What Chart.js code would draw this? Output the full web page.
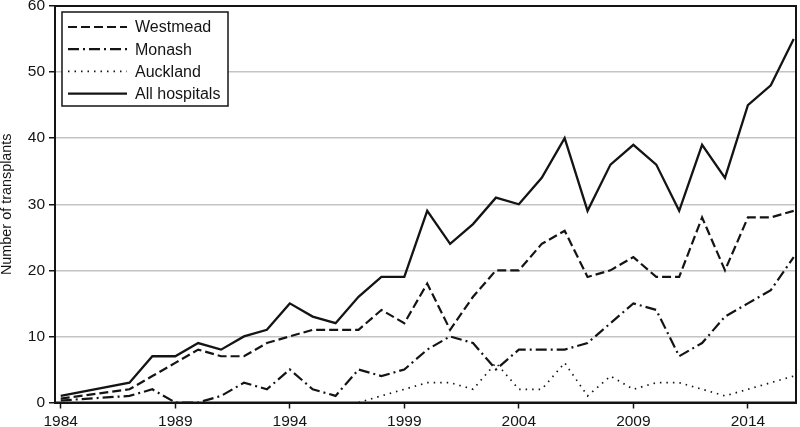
<!DOCTYPE html>
<html>
<head>
<meta charset="utf-8">
<script src="https://cdn.jsdelivr.net/npm/chart.js@4.4.0/dist/chart.umd.min.js"></script>
<style>
html,body{margin:0;padding:0;background:#fff;}
#wrap{width:800px;height:427px;position:relative;}
</style>
</head>
<body>
<div id="wrap"><canvas id="c" width="800" height="427"></canvas></div>
<script>
const years = [1984,1985,1986,1987,1988,1989,1990,1991,1992,1993,1994,1995,1996,1997,1998,1999,2000,2001,2002,2003,2004,2005,2006,2007,2008,2009,2010,2011,2012,2013,2014,2015,2016];
const westmead = [0.6,null,null,2,4,6,8,7,7,9,10,11,11,11,14,12,18,11,16,20,20,24,26,19,20,22,19,19,28,20,28,28,29];
const monash = [0.3,null,null,1,2,0,0,1,3,2,5,2,1,5,4,5,8,10,9,5,8,8,8,9,12,15,14,7,9,13,15,17,22];
const auckland = [null,null,null,null,null,null,null,null,null,null,null,null,null,0,1,2,3,3,2,6,2,2,6,1,4,2,3,3,2,1,2,3,4];
const allHospitals = [1,null,null,3,7,7,9,8,10,11,15,13,12,16,19,19,29,24,27,31,30,34,40,29,36,39,36,29,39,34,45,48,55];
const xTickYears = [1984,1989,1994,1999,2004,2009,2014];
const yTickValues = [0,10,20,30,40,50,60];
const seriesLabels = ['Westmead','Monash','Auckland','All hospitals'];

const FONT = '"Liberation Sans", Arial, Helvetica, sans-serif';
const INK = '#141414';

function pts(arr){ return years.map((y,i)=>({x:y, y:arr[i]})); }

const boxLegend = {
  id:'boxLegend',
  afterDraw(chart){
    const ctx = chart.ctx;
    ctx.save();
    ctx.fillStyle = '#fff';
    ctx.fillRect(62,12,166,94);
    ctx.strokeStyle = INK; ctx.lineWidth = 1.5; ctx.setLineDash([]);
    ctx.strokeRect(62,12,166,94);
    chart.data.datasets.forEach((ds,i)=>{
      const y = 27 + i*22.2;
      ctx.beginPath();
      ctx.setLineDash(ds.borderDash || []);
      ctx.lineWidth = ds.borderWidth;
      ctx.strokeStyle = ds.borderColor;
      ctx.moveTo(68,y); ctx.lineTo(127,y); ctx.stroke();
      ctx.setLineDash([]);
      ctx.fillStyle = INK;
      ctx.font = '16px ' + FONT;
      ctx.textBaseline = 'middle';
      ctx.textAlign = 'left';
      ctx.fillText(ds.label, 135, y+1);
    });
    ctx.restore();
  }
};
const frame = {
  id:'frame',
  afterDatasetsDraw(chart){
    const {ctx, chartArea:a} = chart;
    ctx.save();
    ctx.strokeStyle = INK; ctx.lineWidth = 2; ctx.setLineDash([]);
    ctx.strokeRect(a.left, a.top, a.right-a.left, a.bottom-a.top);
    ctx.restore();
  }
};

new Chart(document.getElementById('c'), {
  type:'line',
  data:{
    datasets:[
      {label:seriesLabels[0], data:pts(westmead), borderColor:INK, borderWidth:2.2, borderDash:[9,4]},
      {label:seriesLabels[1], data:pts(monash), borderColor:INK, borderWidth:2.2, borderDash:[11,4,2,4]},
      {label:seriesLabels[2], data:pts(auckland), borderColor:INK, borderWidth:1.7, borderDash:[1.5,5]},
      {label:seriesLabels[3], data:pts(allHospitals), borderColor:INK, borderWidth:2.3, borderDash:[]}
    ]
  },
  options:{
    responsive:false, animation:false, devicePixelRatio:1,
    spanGaps:true,
    elements:{point:{radius:0}, line:{tension:0, fill:false}},
    layout:{autoPadding:false, padding:{top:6, right:4, left:0, bottom:0}},
    plugins:{legend:{display:false}, tooltip:{enabled:false}},
    scales:{
      x:{
        type:'linear', min:1983.75, max:2016.1,
        afterBuildTicks(s){ s.ticks = xTickYears.map(v=>({value:v})); },
        afterFit(s){ s.height = 24.5; s.paddingLeft = 0; s.paddingRight = 0; },
        ticks:{color:INK, font:{family:FONT, size:15.5}, padding:4, maxRotation:0, autoSkip:false, callback:v=>String(v)},
        grid:{drawOnChartArea:false, tickColor:INK, tickLength:6, tickWidth:1.5},
        border:{display:true, color:INK, width:2}
      },
      y:{
        min:0, max:60,
        afterBuildTicks(s){ s.ticks = yTickValues.map(v=>({value:v})); },
        afterFit(s){ s.width = 55; s.paddingTop = 0; s.paddingBottom = 0; },
        ticks:{color:INK, font:{family:FONT, size:15.5}, padding:4},
        grid:{color:c=> (c.tick && c.tick.value>0 && c.tick.value<60) ? '#c4c4c4' : 'rgba(0,0,0,0)', lineWidth:1.5, tickColor:INK, tickLength:6, tickWidth:1.5},
        border:{display:true, color:INK, width:2},
        title:{display:true, text:'Number of transplants', color:INK, font:{family:FONT, size:14.4, lineHeight:1}, padding:{top:0, bottom:0}}
      }
    }
  },
  plugins:[frame, boxLegend]
});
</script>
</body>
</html>
